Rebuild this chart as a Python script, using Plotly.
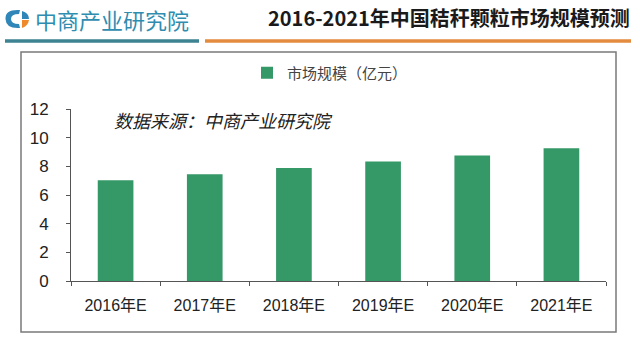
import plotly.graph_objects as go

# Market size forecast (100 million yuan), 2016-2021
years = ["2016年E", "2017年E", "2018年E", "2019年E", "2020年E", "2021年E"]
market_size = [7.03, 7.44, 7.89, 8.33, 8.75, 9.26]
y_ticks = [0, 2, 4, 6, 8, 10, 12]

series_name = "市场规模（亿元）"
title_text = "2016-2021年中国秸秆颗粒市场规模预测"
brand_text = "中商产业研究院"
source_text = "数据来源：中商产业研究院"

W, H = 640, 348
L, R, T, B = 71, 606, 109, 281  # plot area in pixels


def px(x):
    return (x - L) / (R - L)


def py(y):
    return (B - y) / (B - T)


BAR = "#359867"
CJK = "Noto Sans CJK SC"
SANS = "Liberation Sans, Noto Sans CJK SC"

fig = go.Figure(
    go.Bar(
        x=years,
        y=market_size,
        name=series_name,
        marker=dict(color=BAR, line=dict(width=0)),
        showlegend=True,
    )
)

shapes = [
    # chart frame
    dict(type="rect", xref="paper", yref="paper",
         x0=px(21), x1=px(616), y0=py(332), y1=py(52),
         line=dict(color="#7a7a7a", width=1.5), layer="below"),
    # header rules
    dict(type="line", xref="paper", yref="paper",
         x0=px(5), x1=px(199), y0=py(41), y1=py(41),
         line=dict(color="#3d8391", width=3.5)),
    dict(type="line", xref="paper", yref="paper",
         x0=px(205), x1=px(631), y0=py(41), y1=py(41),
         line=dict(color="#e38b3e", width=3.5)),
]

# brand mark: blue crescent with an orange accent
shapes.append(dict(
    type="path", xref="paper", yref="paper",
    path=(f"M {px(20)} {py(10)} "
          f"Q {px(5)} {py(9)} {px(5.5)} {py(19)} "
          f"Q {px(6)} {py(29)} {px(20)} {py(28)} "
          f"L {px(19)} {py(24)} "
          f"Q {px(11)} {py(24)} {px(11)} {py(19)} "
          f"Q {px(11)} {py(14)} {px(19)} {py(14)} Z"),
    fillcolor="#2f86b8", line=dict(width=0)))
shapes.append(dict(
    type="path", xref="paper", yref="paper",
    path=(f"M {px(22)} {py(11)} "
          f"Q {px(29)} {py(13)} {px(29)} {py(19)} "
          f"L {px(22)} {py(19)} Z"),
    fillcolor="#2f86b8", line=dict(width=0)))
shapes.append(dict(
    type="path", xref="paper", yref="paper",
    path=(f"M {px(22)} {py(20)} "
          f"L {px(29)} {py(20)} "
          f"Q {px(28)} {py(26)} {px(22)} {py(28)} Z"),
    fillcolor="#ee8a2c", line=dict(width=0)))

annotations = [
    dict(text=brand_text, xref="paper", yref="paper",
         x=px(33), y=py(19), xanchor="left", yanchor="middle",
         showarrow=False,
         font=dict(family=CJK, size=22, color="#2f8db0")),
    dict(text=f"<b>{title_text}</b>", xref="paper", yref="paper",
         x=px(632), y=py(18), xanchor="right", yanchor="middle",
         showarrow=False,
         font=dict(family=CJK, size=20, color="#1a1a1a")),
    dict(text=f"<i>{source_text}</i>", xref="paper", yref="paper",
         x=px(112), y=py(120), xanchor="left", yanchor="middle",
         showarrow=False,
         font=dict(family=CJK, size=18, color="#222222")),
]

fig.update_layout(
    width=W, height=H,
    margin=dict(l=L, r=W - R, t=T, b=H - B, pad=0),
    paper_bgcolor="white", plot_bgcolor="white",
    bargap=0.6,
    shapes=shapes,
    annotations=annotations,
    legend=dict(
        orientation="h", x=px(247), y=py(73), xanchor="left", yanchor="middle",
        font=dict(family=CJK, size=15, color="#444444"),
        bgcolor="rgba(0,0,0,0)", itemwidth=30,
    ),
    xaxis=dict(
        type="category", tickson="boundaries",
        showline=True, linecolor="#555555", linewidth=1,
        ticks="outside", ticklen=4, tickcolor="#555555",
        ticklabelstandoff=10,
        tickfont=dict(family=SANS, size=16, color="#222222"),
        showgrid=False, zeroline=False, fixedrange=True,
    ),
    yaxis=dict(
        range=[0, 12], tickvals=y_ticks,
        showline=True, linecolor="#555555", linewidth=1,
        ticks="outside", ticklen=4, tickcolor="#555555",
        ticklabelstandoff=14,
        tickfont=dict(family=SANS, size=17, color="#222222"),
        showgrid=False, zeroline=False, fixedrange=True,
    ),
)

fig.write_html("out.html", config={"displayModeBar": False})
